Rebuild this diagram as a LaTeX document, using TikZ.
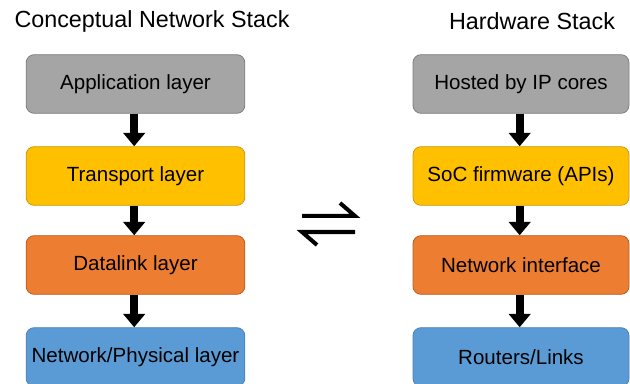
\documentclass[tikz,border=0pt]{standalone}
\usepackage{fontspec}
\setmainfont{Liberation Sans}
\usepackage{tikz}
\usetikzlibrary{arrows.meta}
\definecolor{appgray}{HTML}{A5A5A5}
\definecolor{appgrayline}{HTML}{7F7F7F}
\definecolor{transyellow}{HTML}{FFC000}
\definecolor{transyellowline}{HTML}{C89A10}
\definecolor{linkorange}{HTML}{ED7D31}
\definecolor{linkorangeline}{HTML}{B55E22}
\definecolor{netblue}{HTML}{5B9BD5}
\definecolor{netblueline}{HTML}{4A82B6}

\begin{document}
\begin{tikzpicture}[x=0.75pt,y=-0.75pt,
    layerbox/.style={draw, rounded corners=6pt, line width=0.6pt, minimum height=44pt,
      inner sep=0pt, font=\fontsize{15.4}{18}\selectfont},
    leftbox/.style={layerbox, minimum width=164pt},
    rightbox/.style={layerbox, minimum width=162pt},
    title/.style={font=\fontsize{17.5}{20}\selectfont},
    fatarrow/.style={line width=6pt, -{Triangle[width=16pt,length=10pt]}}]
          \useasboundingbox (0,0) rectangle (630,384);
          % titles
          \node[title] (conctitle) at (152,21) {Conceptual Network Stack};
          \node[title] (hwtitle) at (532,21) {Hardware Stack};
          % conceptual stack
          \node[leftbox, fill=appgray, draw=appgrayline] (app) at (135.5,84) {Application layer};
          \node[leftbox, fill=transyellow, draw=transyellowline] (trans) at (135.5,176) {Transport layer};
          \node[leftbox, fill=linkorange, draw=linkorangeline] (dlink) at (135.5,265) {Datalink layer};
          \node[leftbox, fill=netblue, draw=netblueline] (phys) at (135.5,357) {Network/Physical layer};
          % hardware stack
          \node[rightbox, fill=appgray, draw=appgrayline] (ipcores) at (521,84) {Hosted by IP cores};
          \node[rightbox, fill=transyellow, draw=transyellowline] (fw) at (521,176) {SoC firmware (APIs)};
          \node[rightbox, fill=linkorange, draw=linkorangeline] (nic) at (521,265) {Network interface};
          \node[rightbox, fill=netblue, draw=netblueline] (routers) at (521,357) {Routers/Links};
          % arrows down the stacks
          \foreach \a/\b in {app/trans, trans/dlink, dlink/phys, ipcores/fw, fw/nic, nic/routers}
            \draw[fatarrow] ([xshift=-1pt]\a.south) -- ([xshift=-1pt]\b.north);
          % equilibrium sign between the stacks
          \draw[line width=3pt, line cap=butt] (302,216) -- (355,216) -- (340,203);
          \draw[line width=3pt, line cap=butt] (355,232) -- (302,232) -- (317,245);
        \end{tikzpicture}
\end{document}
